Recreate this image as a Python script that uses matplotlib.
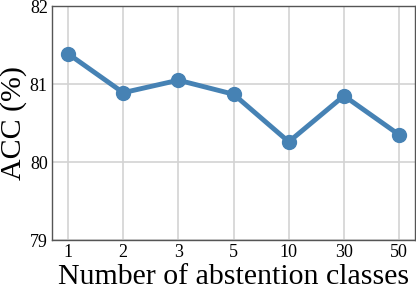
import matplotlib
matplotlib.use("Agg")
import matplotlib.pyplot as plt

categories = ["1", "2", "3", "5", "10", "30", "50"]
acc = [81.39, 80.89, 81.05, 80.87, 80.26, 80.85, 80.35]
yticks = [79, 80, 81, 82]

plt.rcParams['font.family'] = ['Liberation Serif', 'DejaVu Serif']
fig = plt.figure(figsize=(4.16, 2.91), dpi=100)
ax = fig.add_axes([0.125, 0.175, 0.873, 0.804])
x = list(range(len(categories)))
ax.plot(x, acc, color='#4682B4', lw=3.5, marker='o', markersize=10, zorder=3)
ax.set_xticks(x)
ax.set_xticklabels(categories)
ax.set_yticks(yticks)
ax.set_ylim(79, 82)
ax.set_xlim(-0.29, 6.29)
ax.grid(True, color='#d3d3d3', lw=1.2)
ax.set_axisbelow(True)
ax.tick_params(length=0, labelsize=13, pad=3)
for s in ax.spines.values():
    s.set_color('#555555')
    s.set_linewidth(1.0)
ax.set_xlabel("Number of abstention classes", fontsize=21.5, labelpad=2)
ax.set_ylabel("ACC (%)", fontsize=21.5, labelpad=2)
fig.savefig("out.png", dpi=100)
